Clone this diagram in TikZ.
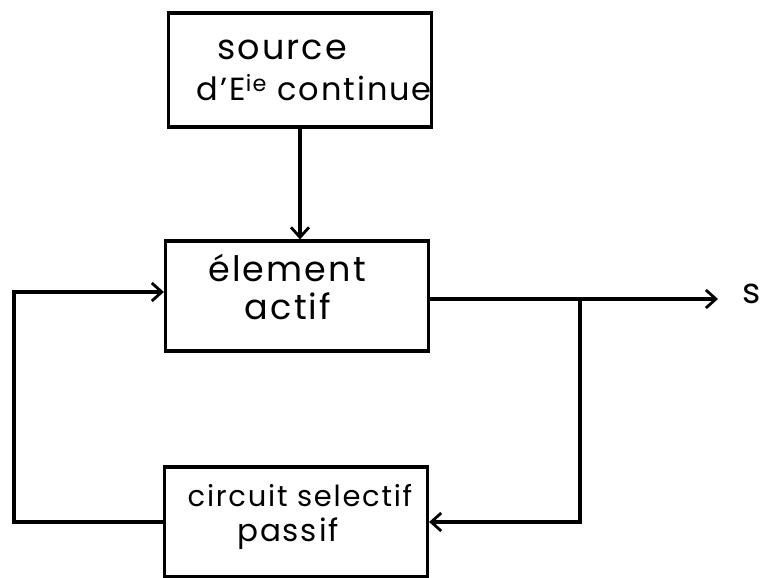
\documentclass[tikz,border=0pt]{standalone}
\usepackage{fontspec}
\setmainfont{Poppins}[LetterSpace=6]
\usetikzlibrary{positioning, calc, arrows.meta}

\begin{document}
\begin{tikzpicture}[x=1pt, y=-1pt, line width=3.2pt,
    block/.style={draw, rectangle, minimum width=263pt, minimum height=110pt,
      align=center, inner sep=0pt},
    flow/.style={-{Straight Barb[length=10pt, width=18pt, line width=2.8pt]}}]
    \useasboundingbox (0,0) rectangle (763,578);

    % blocks
    \node[block, minimum height=114pt] (source) at (300,70) {};
    \node[block] (actif) at (297,296) {};
    \node[block] (filtre) at (296,522) {};

    % texts inside the blocks
    \node[font=\fontsize{35}{40}\selectfont] (srcA) at (282,50) {source};
    \node[font=\fontsize{32}{40}\selectfont, anchor=west] (srcB) at (192,88)
        {d'E\textsuperscript{ie} continue};
    \node[font=\fontsize{35}{40}\selectfont] (actA) at (287,268) {élement};
    \node[font=\fontsize{35}{40}\selectfont] (actB) at (288,306) {actif};
    \node[font=\fontsize{29}{40}\selectfont] (filA) at (300,496) {circuit selectif};
    \node[font=\fontsize{31}{40}\selectfont] (filB) at (288,534) {passif};

    % output
    \coordinate (out) at (718,299);
    \node[font=\fontsize{35}{40}\selectfont, anchor=west] (s) at (738,294) {s};
    \coordinate (junc) at (580,299);

    % connectors
    \draw[flow] (source.south) -- (source.south |- actif.north);
    \draw[flow] (actif.east |- out) -- (out);
    \draw[flow] (junc) |- (filtre.east);
    \draw[flow] (filtre.west) -| (14,292) -- (actif.west |- 0,292);
\end{tikzpicture}
\end{document}
